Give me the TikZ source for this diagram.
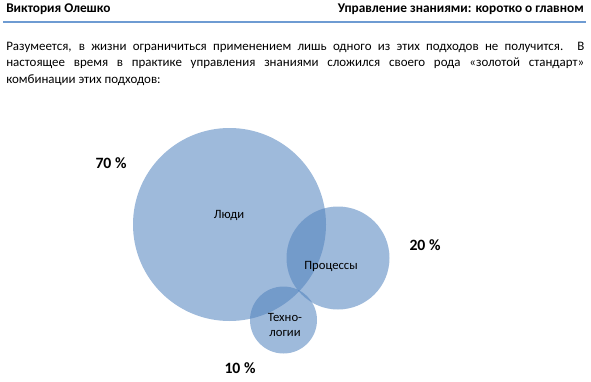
\documentclass[tikz,border=0pt]{standalone}
\usepackage{fontspec}
\setmainfont{Carlito}
\definecolor{accent}{RGB}{79,129,189}
\definecolor{hdrline}{RGB}{110,155,210}
\begin{document}
\begin{tikzpicture}[x=0.75pt,y=-0.75pt,
  bubble/.style={circle,fill=accent,fill opacity=0.55,inner sep=0pt},
  lbl/.style={font=\fontsize{9.5}{11}\selectfont,text=black,align=center,inner sep=0pt},
  pct/.style={font=\fontsize{11.8}{13}\selectfont\bfseries,text=black,inner sep=0pt},
  hdr/.style={font=\fontsize{10}{12}\selectfont\bfseries,inner sep=0pt}]
\useasboundingbox (0,0) rectangle (591,381);
\node[hdr,anchor=west] (author) at (6,9) {Виктория Олешко};
\node[hdr,anchor=east] (title) at (584,9) {Управление знаниями: коротко о главном};
\coordinate (l1) at (3,22);
\coordinate (l2) at (586,22);
\draw[hdrline,line width=0.9pt] (l1) -- (l2);
\node[anchor=north west,inner sep=0pt,text width=433.5pt,align=justify,
  font=\fontsize{9.7}{12.4}\selectfont] (para) at (6,41.5)
  {Разумеется, в жизни ограничиться применением лишь одного из этих подходов не получится. В\linebreak
   настоящее время в практике управления знаниями сложился своего рода «золотой стандарт»\linebreak
   комбинации этих подходов:};
\node[bubble,minimum size=193*0.75pt] (people) at (229.5,224.5) {};
\node[bubble,minimum size=103*0.75pt] (proc) at (338,258) {};
\node[bubble,minimum size=67*0.75pt] (tech) at (283.5,320) {};
\node[lbl] (lpeople) at (229,215) {Люди};
\node[lbl] (lproc) at (331,266) {Процессы};
\node[lbl] (ltech) at (285,325) {Техно-\\логии};
\node[pct] (p70) at (111,163) {70 \%};
\node[pct] (p20) at (425,245) {20 \%};
\node[pct] (p10) at (240,368) {10 \%};
\end{tikzpicture}
\end{document}
